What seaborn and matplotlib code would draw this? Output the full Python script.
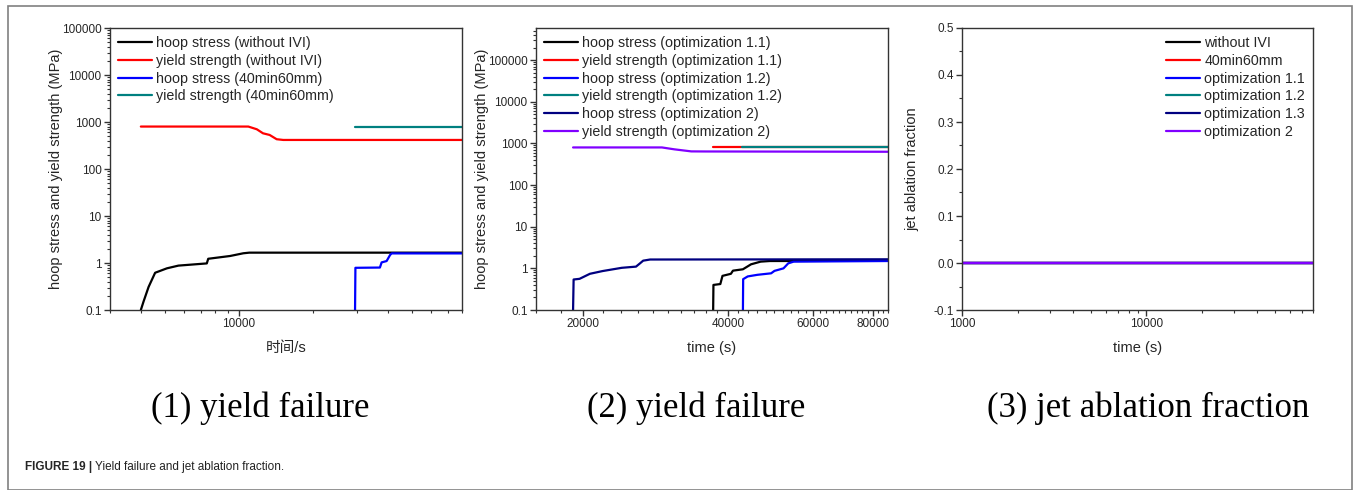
import numpy as np
import pandas as pd
import matplotlib
matplotlib.use('Agg')
import matplotlib.pyplot as plt
import matplotlib.ticker as mticker
from matplotlib.patches import Rectangle
import seaborn as sns

# ---- datos panel 1 (yield failure, without IVI / 40min60mm) ----
hoop_noivi_t = [4000, 4100, 4300, 4570, 5100, 5680, 7400, 7500, 9200, 10400, 11000, 80000]
hoop_noivi_v = [0.1, 0.15, 0.31, 0.62, 0.77, 0.88, 0.98, 1.23, 1.41, 1.61, 1.66, 1.66]
yield_noivi_t = [4000, 10900, 11800, 12500, 13300, 14200, 15100, 80000]
yield_noivi_v = [800, 800, 700, 575, 530, 430, 415, 415]
hoop_4060_t = [29500, 29600, 37200, 37800, 39600, 40900, 41500, 80000]
hoop_4060_v = [0.1, 0.79, 0.8, 1.03, 1.1, 1.48, 1.6, 1.6]
yield_4060_t = [29500, 80000]
yield_4060_v = [800, 800]
labels_p1 = ['hoop stress (without IVI)', 'yield strength (without IVI)',
             'hoop stress (40min60mm)', 'yield strength (40min60mm)']

# ---- datos panel 2 (optimizations) ----
hoop_o11_t = [37300, 37350, 38600, 39000, 40600, 41000, 43000, 44700, 46800, 48900, 86000]
hoop_o11_v = [0.1, 0.4, 0.42, 0.66, 0.74, 0.88, 0.95, 1.25, 1.45, 1.5, 1.52]
yield_o11_t = [37300, 86000]
yield_o11_v = [800, 800]
hoop_o12_t = [43000, 43050, 44000, 46100, 49200, 50000, 52200, 53400, 54800, 86000]
hoop_o12_v = [0.1, 0.55, 0.64, 0.7, 0.76, 0.87, 1.0, 1.32, 1.45, 1.5]
yield_o12_t = [42800, 86000]
yield_o12_v = [800, 800]
hoop_o2_t = [19100, 19150, 19700, 20700, 21980, 24100, 25800, 26300, 26700, 27600, 86000]
hoop_o2_v = [0.1, 0.54, 0.56, 0.74, 0.86, 1.03, 1.1, 1.32, 1.53, 1.63, 1.65]
yield_o2_t = [19100, 29200, 31000, 33600, 36000, 86000]
yield_o2_v = [800, 800, 720, 643, 640, 630]
labels_p2 = ['hoop stress (optimization 1.1)', 'yield strength (optimization 1.1)',
             'hoop stress (optimization 1.2)', 'yield strength (optimization 1.2)',
             'hoop stress (optimization 2)', 'yield strength (optimization 2)']

# ---- datos panel 3 (jet ablation fraction) ----
ablation_t = [1000, 80000]
ablation_v = [0.0, 0.0]
labels_p3 = ['without IVI', '40min60mm', 'optimization 1.1',
             'optimization 1.2', 'optimization 1.3', 'optimization 2']

colores1 = ['#000000', '#ff0000', '#0000ff', '#008080']
colores2 = ['#000000', '#ff0000', '#0000ff', '#008080', '#000080', '#8000ff']


def armar(series, nombres):
    filas = []
    for (t, v), n in zip(series, nombres):
        filas.append(pd.DataFrame({'t': t, 'v': v, 'serie': n}))
    return pd.concat(filas, ignore_index=True)


df1 = armar([(hoop_noivi_t, hoop_noivi_v), (yield_noivi_t, yield_noivi_v),
             (hoop_4060_t, hoop_4060_v), (yield_4060_t, yield_4060_v)], labels_p1)
df2 = armar([(hoop_o11_t, hoop_o11_v), (yield_o11_t, yield_o11_v),
             (hoop_o12_t, hoop_o12_v), (yield_o12_t, yield_o12_v),
             (hoop_o2_t, hoop_o2_v), (yield_o2_t, yield_o2_v)], labels_p2)
df3 = armar([(ablation_t, ablation_v)] * 6, labels_p3)

sns.set_style('ticks')
plt.rcParams['font.family'] = ['Liberation Sans', 'Noto Sans CJK SC']
plt.rcParams['axes.edgecolor'] = '#333333'
plt.rcParams['axes.linewidth'] = 1.0

fig = plt.figure(figsize=(13.54, 4.90), dpi=100)
fig.patches.append(Rectangle((8 / 1354, 0), 1344 / 1354, 1 - 6 / 490,
                             transform=fig.transFigure, fill=False,
                             edgecolor='#808080', linewidth=1.2))

bottom, height = 1 - 310 / 490, 282 / 490
ax1 = fig.add_axes([110 / 1354, bottom, 352 / 1354, height])
ax2 = fig.add_axes([536 / 1354, bottom, 352 / 1354, height])
ax3 = fig.add_axes([962 / 1354, bottom, 351 / 1354, height])

fmt_g = mticker.FuncFormatter(lambda v, p: f'{v:g}')
leg_kw = dict(frameon=False, fontsize=10.3, handlelength=2.4, handletextpad=0.3,
              labelspacing=0.27, borderaxespad=0.15)

for ax, df, pal in [(ax1, df1, colores1), (ax2, df2, colores2), (ax3, df3, colores2)]:
    sns.lineplot(data=df, x='t', y='v', hue='serie', palette=pal, estimator=None,
                 sort=False, linewidth=1.6, ax=ax)
    ax.set_xscale('log')
    ax.tick_params(which='major', length=4, width=1, labelsize=8.5, pad=2, color='#333333')
    ax.tick_params(which='minor', length=2.5, width=0.8, color='#333333')
    for s in ax.spines.values():
        s.set_visible(True)
    leg = ax.get_legend()
    if leg is not None:
        leg.remove()

# panel 1
ax1.set_yscale('log')
ax1.set_ylim(0.1, 100000)
ax1.set_xlim(3000, 80000)
ax1.yaxis.set_major_locator(mticker.LogLocator(base=10, numticks=10))
ax1.yaxis.set_major_formatter(fmt_g)
ax1.xaxis.set_major_locator(mticker.FixedLocator([10000]))
ax1.xaxis.set_major_formatter(fmt_g)
ax1.xaxis.set_minor_locator(mticker.LogLocator(base=10, subs=np.arange(2, 10), numticks=20))
ax1.xaxis.set_minor_formatter(mticker.NullFormatter())
ax1.set_xlabel('时间/s', fontsize=10.5, labelpad=8)
ax1.set_ylabel('hoop stress and yield strength (MPa)', fontsize=10.5, labelpad=-1)
ax1.legend(loc='upper left', bbox_to_anchor=(0, 1), **leg_kw)

# panel 2
ax2.set_yscale('log')
ax2.set_ylim(0.1, 5.9e5)
ax2.set_xlim(16000, 86000)
ax2.yaxis.set_major_locator(mticker.FixedLocator([0.1, 1, 10, 100, 1000, 10000, 100000]))
ax2.yaxis.set_major_formatter(fmt_g)
ax2.xaxis.set_major_locator(mticker.FixedLocator([20000, 40000, 60000, 80000]))
ax2.xaxis.set_major_formatter(fmt_g)
ax2.xaxis.set_minor_locator(mticker.MultipleLocator(2000))
ax2.xaxis.set_minor_formatter(mticker.NullFormatter())
ax2.set_xlabel('time (s)', fontsize=10.5, labelpad=8)
ax2.set_ylabel('hoop stress and yield strength (MPa)', fontsize=10.5, labelpad=-1)
ax2.legend(loc='upper left', bbox_to_anchor=(0, 1), **leg_kw)

# panel 3
ax3.set_ylim(-0.1, 0.5)
ax3.set_xlim(1000, 80000)
ax3.yaxis.set_major_locator(mticker.MultipleLocator(0.1))
ax3.yaxis.set_minor_locator(mticker.MultipleLocator(0.05))
ax3.yaxis.set_major_formatter(mticker.FuncFormatter(lambda v, p: f'{v:.1f}'))
ax3.xaxis.set_major_locator(mticker.FixedLocator([1000, 10000]))
ax3.xaxis.set_major_formatter(fmt_g)
ax3.xaxis.set_minor_locator(mticker.LogLocator(base=10, subs=np.arange(2, 10), numticks=20))
ax3.xaxis.set_minor_formatter(mticker.NullFormatter())
ax3.set_xlabel('time (s)', fontsize=10.5, labelpad=8)
ax3.set_ylabel('jet ablation fraction', fontsize=10.5, labelpad=10)
ax3.legend(loc='upper right', bbox_to_anchor=(1, 1), **leg_kw)

# subtitulos
for xc, txt in [(260, '(1) yield failure'), (696, '(2) yield failure'),
                (1148, '(3) jet ablation fraction')]:
    fig.text(xc / 1354, 1 - 408 / 490, txt, ha='center', va='center',
             fontsize=25, family='Liberation Serif', color='black')

t1 = fig.text(25 / 1354, 1 - 467 / 490, 'FIGURE 19 |', fontsize=8.5, fontweight='bold',
              va='center', ha='left')
ax3.annotate(' Yield failure and jet ablation fraction.', xy=(1, 0.5), xycoords=t1,
             va='center', ha='left', fontsize=8.5, color='#222222', annotation_clip=False)

fig.savefig('out.png', dpi=100)
